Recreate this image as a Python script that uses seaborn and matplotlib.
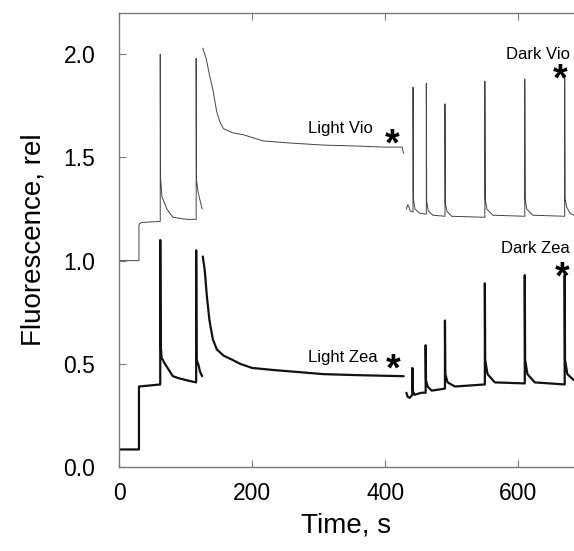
import matplotlib
matplotlib.use("Agg")
import matplotlib.pyplot as plt
import pandas as pd
import seaborn as sns

# violaxanthin trace (thin), three pieces between the gaps
vio_t1 = [0, 30, 30, 31, 34, 62, 62, 62.5, 64.5, 72, 81, 102, 116, 116, 116.5, 119, 125]
vio_y1 = [1.0, 1.0, 1.17, 1.18, 1.185, 1.19, 2.0, 1.40, 1.31, 1.25, 1.21, 1.20, 1.20, 1.98, 1.39, 1.33, 1.25]
vio_t2 = [126, 131, 136, 141, 147, 152, 157, 170, 187, 217, 257, 307, 360, 400, 426, 427, 428]
vio_y2 = [2.03, 1.98, 1.90, 1.83, 1.72, 1.67, 1.64, 1.62, 1.61, 1.58, 1.57, 1.56, 1.555, 1.55, 1.55, 1.53, 1.52]
vio_t3 = [432, 434, 436, 438, 442, 442, 442.5, 445, 452, 462, 462, 462.5, 465, 472, 490, 490, 490.5, 493,
          500, 550, 550, 550.5, 553, 562, 610, 610, 610.5, 613, 622, 670, 670, 670.5, 673, 678, 684]
vio_y3 = [1.25, 1.27, 1.26, 1.24, 1.235, 1.84, 1.30, 1.25, 1.23, 1.225, 1.86, 1.29, 1.24, 1.22, 1.215, 1.76, 1.28,
          1.24, 1.215, 1.21, 1.87, 1.30, 1.25, 1.22, 1.215, 1.88, 1.30, 1.25, 1.22, 1.215, 1.90, 1.30, 1.26, 1.23, 1.22]

# zeaxanthin trace (thick), same pieces
zea_t1 = [0, 30, 30, 62, 62, 62.5, 64, 69, 75, 81, 90, 102, 116, 116, 116.5, 119, 122, 125]
zea_y1 = [0.085, 0.085, 0.39, 0.40, 1.10, 0.60, 0.53, 0.50, 0.47, 0.44, 0.43, 0.42, 0.41, 1.05, 0.52, 0.50, 0.46, 0.44]
zea_t2 = [126, 129, 132, 136, 141, 147, 157, 170, 182, 200, 232, 270, 307, 360, 428]
zea_y2 = [1.02, 0.95, 0.83, 0.71, 0.62, 0.57, 0.54, 0.52, 0.50, 0.48, 0.47, 0.46, 0.45, 0.445, 0.44]
zea_t3 = [432, 434, 437, 441, 441, 441.5, 444, 455, 461, 461, 461.5, 464, 470, 490, 490, 490.5, 494, 505,
          550, 550, 550.5, 554, 565, 610, 610, 610.5, 614, 625, 670, 670, 670.5, 674, 684]
zea_y3 = [0.36, 0.34, 0.335, 0.35, 0.48, 0.37, 0.35, 0.36, 0.36, 0.59, 0.42, 0.39, 0.37, 0.38, 0.71, 0.45, 0.41, 0.39,
          0.40, 0.89, 0.52, 0.45, 0.41, 0.405, 0.93, 0.52, 0.45, 0.41, 0.40, 0.93, 0.52, 0.45, 0.42]

labels = ["Light Vio", "Dark Vio", "Light Zea", "Dark Zea"]
label_t = [333, 630, 337, 626]
label_y = [1.64, 2.00, 0.53, 1.06]
star_t = [410, 663, 412, 666]
star_y = [1.56, 1.875, 0.47, 0.915]

xticks = [0, 200, 400, 600]
yticks = [0.0, 0.5, 1.0, 1.5, 2.0]

rows = []
for trace, pieces in [("vio", [(vio_t1, vio_y1), (vio_t2, vio_y2), (vio_t3, vio_y3)]),
                      ("zea", [(zea_t1, zea_y1), (zea_t2, zea_y2), (zea_t3, zea_y3)])]:
    for k, (ts, ys) in enumerate(pieces):
        for t, y in zip(ts, ys):
            rows.append({"trace": trace, "seg": f"{trace}{k}", "t": t, "y": y})
df = pd.DataFrame(rows)

sns.set_style("ticks")
plt.rcParams["font.family"] = ["Liberation Sans", "DejaVu Sans"]
plt.rcParams["text.color"] = "black"
plt.rcParams["axes.labelcolor"] = "black"

fig = plt.figure(figsize=(5.74, 5.51), dpi=100)
ax = fig.add_axes([119 / 574, 84 / 551, 455 / 574, 454 / 551])

sns.lineplot(data=df[df.trace == "vio"], x="t", y="y", units="seg", estimator=None, sort=False,
             color="#444444", linewidth=0.7, ax=ax, legend=False)
sns.lineplot(data=df[df.trace == "zea"], x="t", y="y", units="seg", estimator=None, sort=False,
             color="#111111", linewidth=1.6, ax=ax, legend=False)

for txt, t, y in zip(labels, label_t, label_y):
    ax.text(t, y, txt, ha="center", va="center", fontsize=12, color="black")
for t, y in zip(star_t, star_y):
    ax.text(t, y, "*", ha="center", va="center", fontsize=27, fontweight="bold", color="black")

ax.set_xlim(0, 684)
ax.set_ylim(0, 2.2)
ax.set_xticks(xticks)
ax.set_yticks(yticks)
ax.set_yticklabels([f"{v:.1f}" for v in yticks])
ax.tick_params(direction="in", top=True, length=5, width=0.8, color="#777777",
               labelcolor="black", labelsize=16.5, pad=11)
ax.tick_params(axis="y", pad=17)
for side in ["left", "bottom", "top"]:
    ax.spines[side].set_color("#777777")
    ax.spines[side].set_linewidth(1.0)
ax.spines["right"].set_visible(False)

ax.set_xlabel("Time, s", fontsize=20, labelpad=5)
ax.set_ylabel("Fluorescence, rel", fontsize=20, labelpad=12)

fig.savefig("out.png", dpi=100)
